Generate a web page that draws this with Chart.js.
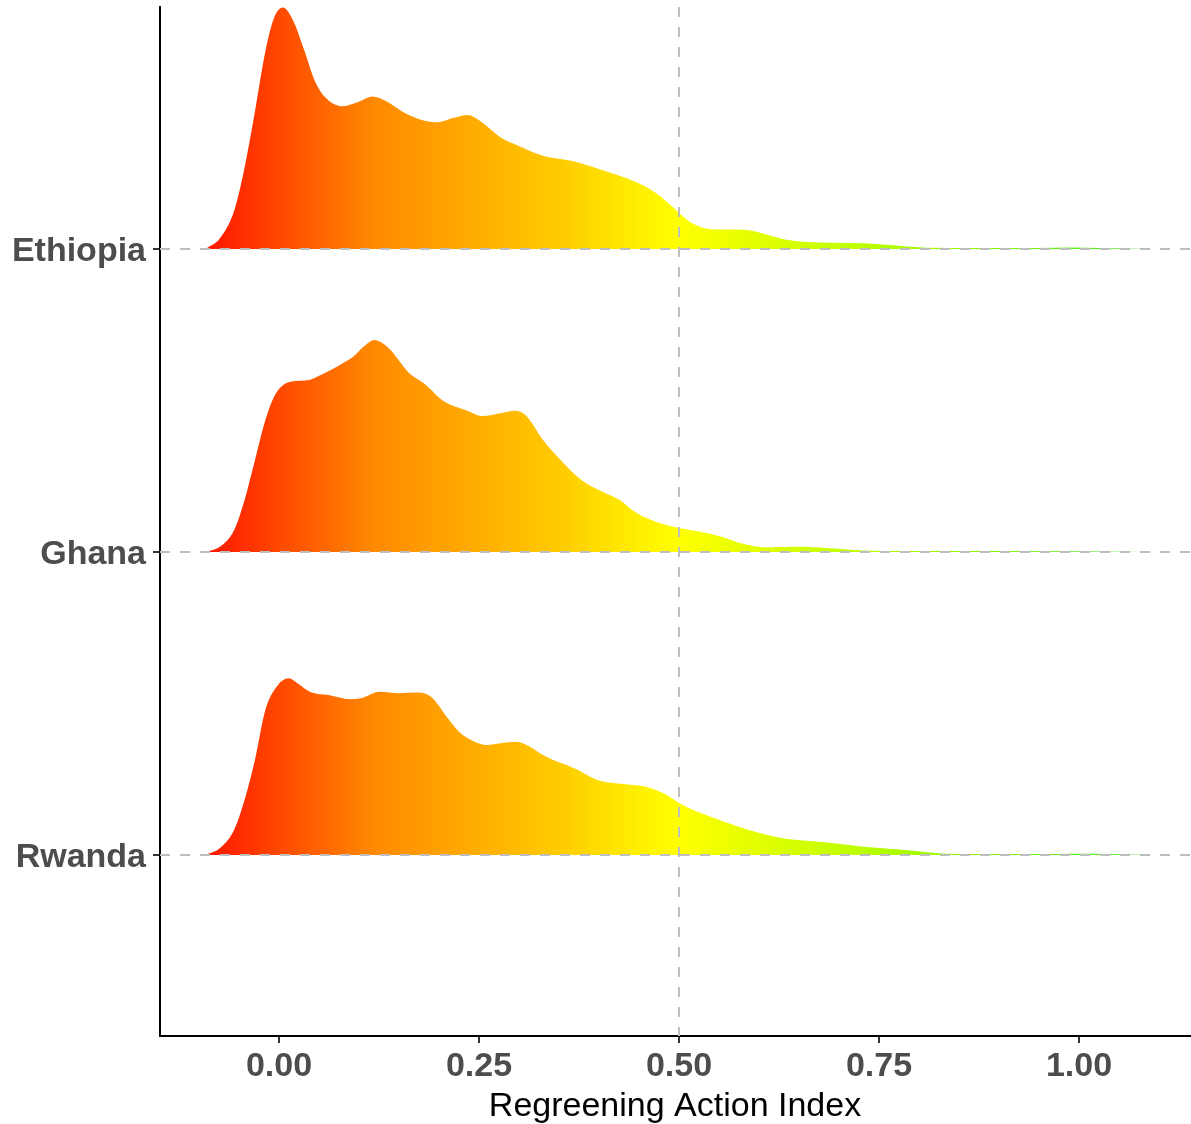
<!DOCTYPE html>
<html lang="en">
<head>
    <meta charset="UTF-8">
    <title>Regreening Action Index</title>
    <script src="https://cdn.jsdelivr.net/npm/chart.js@4.4.0/dist/chart.umd.min.js"></script>
    <style>
        body { margin: 0; background: #fff; }
    </style>
</head>
<body>
    <canvas id="chart" width="1191" height="1124"></canvas>
    <script>

// ridge rows (y position of each baseline)
const countries = ['Rwanda', 'Ghana', 'Ethiopia'];
const xTicks = [0, 0.25, 0.5, 0.75, 1];

// density curves (height in row units)
const ethX = [-0.092, -0.074, -0.056, -0.043, -0.030, -0.017, -0.006, 0.005, 0.018, 0.032, 0.045, 0.058, 0.080, 0.098, 0.117, 0.133, 0.159, 0.196, 0.220, 0.236, 0.251, 0.277, 0.299, 0.330, 0.365, 0.400, 0.446, 0.471, 0.500, 0.514, 0.531, 0.542, 0.585, 0.604, 0.627, 0.655, 0.731, 0.768, 0.810, 0.871, 0.950, 0.989, 1.026, 1.090];
const ethY = [0, 0.035, 0.126, 0.269, 0.455, 0.653, 0.764, 0.797, 0.752, 0.653, 0.554, 0.500, 0.471, 0.484, 0.503, 0.489, 0.446, 0.418, 0.434, 0.442, 0.423, 0.368, 0.341, 0.308, 0.291, 0.264, 0.221, 0.185, 0.120, 0.089, 0.069, 0.065, 0.063, 0.052, 0.035, 0.024, 0.019, 0.012, 0.004, 0.003, 0.003, 0.005, 0.003, 0];

const ghaX = [-0.092, -0.074, -0.056, -0.043, -0.030, -0.017, -0.006, 0.003, 0.014, 0.038, 0.045, 0.076, 0.093, 0.106, 0.119, 0.135, 0.163, 0.181, 0.207, 0.233, 0.255, 0.277, 0.295, 0.308, 0.330, 0.352, 0.378, 0.405, 0.425, 0.446, 0.472, 0.500, 0.528, 0.552, 0.580, 0.608, 0.650, 0.683, 0.730, 0.778, 0.900, 1.090];
const ghaY = [0, 0.017, 0.073, 0.172, 0.304, 0.436, 0.513, 0.546, 0.562, 0.568, 0.575, 0.617, 0.645, 0.678, 0.700, 0.678, 0.590, 0.557, 0.496, 0.469, 0.449, 0.458, 0.466, 0.452, 0.370, 0.304, 0.238, 0.198, 0.173, 0.130, 0.099, 0.079, 0.066, 0.051, 0.027, 0.015, 0.017, 0.013, 0.005, 0.003, 0.003, 0];

const rwaX = [-0.092, -0.074, -0.056, -0.043, -0.030, -0.017, -0.003, 0.012, 0.023, 0.040, 0.062, 0.089, 0.102, 0.126, 0.150, 0.174, 0.190, 0.211, 0.225, 0.242, 0.260, 0.277, 0.297, 0.312, 0.334, 0.369, 0.400, 0.431, 0.462, 0.485, 0.500, 0.524, 0.542, 0.575, 0.613, 0.636, 0.683, 0.731, 0.778, 0.825, 0.858, 0.950, 0.989, 1.036, 1.090];
const rwaY = [0, 0.022, 0.083, 0.182, 0.314, 0.479, 0.555, 0.583, 0.567, 0.537, 0.528, 0.514, 0.517, 0.539, 0.534, 0.536, 0.522, 0.451, 0.407, 0.377, 0.363, 0.369, 0.374, 0.360, 0.324, 0.286, 0.246, 0.234, 0.223, 0.198, 0.172, 0.142, 0.124, 0.093, 0.064, 0.053, 0.042, 0.027, 0.017, 0.006, 0.003, 0.003, 0.004, 0.003, 0];

// fill colour along the x axis
const gradStops = [
    [-0.092, '#ff1400'], [0.0, '#ff4800'], [0.12, '#ff8a00'], [0.25, '#ffae00'],
    [0.35, '#ffcb00'], [0.44, '#ffec00'], [0.50, '#ffff00'], [0.70, '#c4ff00'],
    [0.85, '#96f800'], [1.0, '#5eee1c'], [1.09, '#44e82a']
];

function ridge(xs, ys, base) {
    return xs.map((x, i) => ({ x: x, y: base + ys[i] }));
}

let gradCache = null;
function fillGradient(chart) {
    const area = chart.chartArea;
    if (!area) return null;
    const x = chart.scales.x;
    const x0 = x.getPixelForValue(gradStops[0][0]);
    const x1 = x.getPixelForValue(gradStops[gradStops.length - 1][0]);
    if (gradCache && gradCache.x0 === x0 && gradCache.x1 === x1) return gradCache.g;
    const g = chart.ctx.createLinearGradient(x0, 0, x1, 0);
    gradStops.forEach(s => {
        const p = (x.getPixelForValue(s[0]) - x0) / (x1 - x0);
        g.addColorStop(Math.min(1, Math.max(0, p)), s[1]);
    });
    gradCache = { x0: x0, x1: x1, g: g };
    return g;
}

function ridgeSet(label, xs, ys, base) {
    return {
        label: label,
        data: ridge(xs, ys, base),
        fill: { value: base },
        backgroundColor: ctx => fillGradient(ctx.chart),
        borderWidth: 0,
        pointRadius: 0,
        cubicInterpolationMode: 'monotone',
        tension: 0.4
    };
}

// dashed reference lines (rows and x = 0.5)
const refLines = {
    id: 'refLines',
    afterDatasetsDraw(chart) {
        const { ctx, chartArea, scales } = chart;
        ctx.save();
        ctx.strokeStyle = '#bebebe';
        ctx.lineWidth = 2;
        ctx.setLineDash([10, 10]);
        [1, 2, 3].forEach(v => {
            const y = Math.round(scales.y.getPixelForValue(v));
            ctx.beginPath();
            ctx.moveTo(chartArea.left, y);
            ctx.lineTo(chartArea.right, y);
            ctx.stroke();
        });
        const x = Math.round(scales.x.getPixelForValue(0.5));
        ctx.beginPath();
        ctx.moveTo(x, chartArea.top);
        ctx.lineTo(x, chartArea.bottom);
        ctx.stroke();
        ctx.restore();
    }
};

const tickFont = { family: "'Liberation Sans', Arial, sans-serif", size: 34, weight: 'bold' };

new Chart(document.getElementById('chart').getContext('2d'), {
    type: 'line',
    data: {
        datasets: [
            ridgeSet('Ethiopia', ethX, ethY, 3),
            ridgeSet('Ghana', ghaX, ghaY, 2),
            ridgeSet('Rwanda', rwaX, rwaY, 1)
        ]
    },
    options: {
        responsive: false,
        animation: false,
        layout: { padding: { top: 7, right: 1, left: 0, bottom: 0 } },
        plugins: { legend: { display: false }, tooltip: { enabled: false } },
        scales: {
            x: {
                type: 'linear',
                min: -0.14875,
                max: 1.13875,
                afterBuildTicks: s => { s.ticks = xTicks.map(v => ({ value: v })); },
                afterFit: s => { s.height = 88; s.paddingLeft = 0; s.paddingRight = 0; },
                grid: { drawOnChartArea: false, drawTicks: true, tickLength: 7, color: '#333', lineWidth: 2 },
                border: { display: true, color: '#000', width: 2 },
                ticks: {
                    color: '#4d4d4d',
                    font: tickFont,
                    padding: 3,
                    maxRotation: 0,
                    callback: v => Number(v).toFixed(2)
                },
                title: {
                    display: true,
                    text: 'Regreening Action Index',
                    color: '#000',
                    font: { family: "'Liberation Sans', Arial, sans-serif", size: 34, lineHeight: 1 },
                    padding: { top: 0, bottom: 0 }
                }
            },
            y: {
                type: 'linear',
                min: 0.4026,
                max: 3.7987,
                afterBuildTicks: s => { s.ticks = [1, 2, 3].map(v => ({ value: v })); },
                afterFit: s => { s.width = 160; s.paddingTop = 0; s.paddingBottom = 0; },
                grid: { drawOnChartArea: false, drawTicks: true, tickLength: 7, color: '#333', lineWidth: 2 },
                border: { display: true, color: '#000', width: 2 },
                ticks: {
                    color: '#4d4d4d',
                    font: tickFont,
                    padding: 7,
                    labelOffset: 3,
                    callback: v => countries[v - 1] || ''
                }
            }
        }
    },
    plugins: [refLines]
});

    </script>
</body>
</html>
